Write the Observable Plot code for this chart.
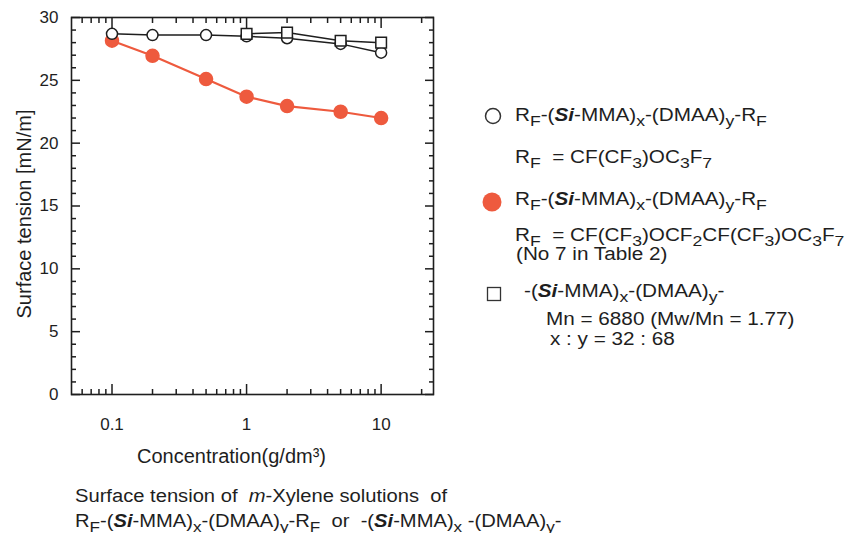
<!DOCTYPE html>
<html>
<head>
<meta charset="utf-8">
<script src="https://cdn.jsdelivr.net/npm/d3@7"></script>
<script src="https://cdn.jsdelivr.net/npm/@observablehq/plot@0.6"></script>
<style>
  html, body { margin: 0; padding: 0; background: #fff; }
  #wrap { position: relative; width: 854px; height: 533px; font-family: "Liberation Sans", Arial, sans-serif; color: #1e1e1e; }
  #chart { position: absolute; left: 0; top: 0; }
  .t { position: absolute; white-space: pre; line-height: 1.1; transform-origin: 0 0; }
  .leg { font-size: 18px; transform: scaleX(1.15); }
  sub { font-size: 85%; vertical-align: baseline; position: relative; top: 0.3em; }
  .si { font-weight: bold; font-style: italic; }
  .sym { position: absolute; }
  #caption { font-size: 18px; left: 75px; top: 484px; line-height: 25px; transform: scaleX(1.12); }
</style>
</head>
<body>
<div id="wrap">
  <div id="chart"></div>
  <svg class="sym" style="left:483px;top:106px" width="20" height="20"><circle cx="10" cy="10" r="7.5" fill="#fff" stroke="#333" stroke-width="1.5"/></svg>
  <div class="t leg" style="left:515px;top:106px">R<sub>F</sub>-(<span class="si">Si</span>-MMA)<sub>x</sub>-(DMAA)<sub>y</sub>-R<sub>F</sub></div>
  <div class="t leg" style="left:515px;top:148px">R<sub>F</sub>  = CF(CF<sub>3</sub>)OC<sub>3</sub>F<sub>7</sub></div>
  <svg class="sym" style="left:481px;top:191px" width="22" height="22"><circle cx="11" cy="11" r="9.5" fill="#ee5a3e"/></svg>
  <div class="t leg" style="left:515px;top:190px">R<sub>F</sub>-(<span class="si">Si</span>-MMA)<sub>x</sub>-(DMAA)<sub>y</sub>-R<sub>F</sub></div>
  <div class="t leg" style="left:515px;top:226px">R<sub>F</sub>  = CF(CF<sub>3</sub>)OCF<sub>2</sub>CF(CF<sub>3</sub>)OC<sub>3</sub>F<sub>7</sub></div>
  <div class="t leg" style="left:516px;top:245px">(No 7 in Table 2)</div>
  <svg class="sym" style="left:485px;top:285px" width="18" height="18"><rect x="2.5" y="2.5" width="13" height="13" fill="#fff" stroke="#333" stroke-width="1.3"/></svg>
  <div class="t leg" style="left:524px;top:282px">-(<span class="si">Si</span>-MMA)<sub>x</sub>-(DMAA)<sub>y</sub>-</div>
  <div class="t leg" style="left:546px;top:310px">Mn = 6880 (Mw/Mn = 1.77)</div>
  <div class="t leg" style="left:550px;top:330px">x : y = 32 : 68</div>
  <div class="t" id="caption">Surface tension of  <i>m</i>-Xylene solutions  of
R<sub>F</sub>-(<span class="si">Si</span>-MMA)<sub>x</sub>-(DMAA)<sub>y</sub>-R<sub>F</sub>  or  -(<span class="si">Si</span>-MMA)<sub>x</sub> -(DMAA)<sub>y</sub>-</div>
</div>
<script>
// ---- data ----
const concentration = [0.1, 0.2, 0.5, 1, 2, 5, 10];
const tensionOpenCircle = [28.7, 28.6, 28.6, 28.5, 28.35, 27.9, 27.2];
const tensionRedCircle = [28.15, 26.95, 25.1, 23.7, 22.95, 22.5, 22.0];
const concentrationSquare = [1, 2, 5, 10];
const tensionSquare = [28.7, 28.8, 28.15, 28.0];
const yMajorTicks = [0, 5, 10, 15, 20, 25, 30];
const yMinorTicks = d3.range(0, 31).filter(v => v % 5 !== 0);
const xMajorTicks = [0.1, 1, 10];
const xMinorTicks = [0.06, 0.07, 0.08, 0.09, 0.2, 0.3, 0.4, 0.5, 0.6, 0.7, 0.8, 0.9, 2, 3, 4, 5, 6, 7, 8, 9, 20];
const xLabel = "Concentration(g/dm³)";
const yLabel = "Surface tension [mN/m]";

const openData = concentration.map((c, i) => ({c, v: tensionOpenCircle[i]}));
const redData = concentration.map((c, i) => ({c, v: tensionRedCircle[i]}));
const squareData = concentrationSquare.map((c, i) => ({c, v: tensionSquare[i]}));

const red = "#ee5a3e";
const ink = "#1e1e1e";
const blank = () => "";

const chart = Plot.plot({
  width: 450,
  height: 478,
  marginLeft: 71,
  marginRight: 17,
  marginTop: 17,
  marginBottom: 84,
  style: {fontFamily: "'Liberation Sans', Arial, sans-serif", fontSize: "17px", color: ink, background: "transparent"},
  x: {type: "log", domain: [0.05, 24.5]},
  y: {domain: [0, 30]},
  marks: [
    Plot.frame({stroke: ink, strokeWidth: 1.6}),
    // y axis left: labels + major ticks (inward)
    Plot.axisY(yMajorTicks, {anchor: "left", tickSize: -9, tickPadding: 22, fontSize: 17, label: null, stroke: ink, strokeWidth: 1.5}),
    Plot.axisY(yMinorTicks, {anchor: "left", tickSize: -5, tickFormat: blank, label: null, stroke: ink, strokeWidth: 1.5}),
    Plot.axisY(yMajorTicks, {anchor: "right", tickSize: -9, tickFormat: blank, label: null, stroke: ink, strokeWidth: 1.5}),
    Plot.axisY(yMinorTicks, {anchor: "right", tickSize: -5, tickFormat: blank, label: null, stroke: ink, strokeWidth: 1.5}),
    // x axis
    Plot.axisX(xMajorTicks, {anchor: "bottom", tickSize: -10, tickPadding: 33, fontSize: 17, tickFormat: d => String(d), label: null, stroke: ink, strokeWidth: 1.5}),
    Plot.axisX(xMinorTicks, {anchor: "bottom", tickSize: -5, tickFormat: blank, label: null, stroke: ink, strokeWidth: 1.5}),
    Plot.axisX(xMajorTicks, {anchor: "top", tickSize: -10, tickFormat: blank, label: null, stroke: ink, strokeWidth: 1.5}),
    Plot.axisX(xMinorTicks, {anchor: "top", tickSize: -5, tickFormat: blank, label: null, stroke: ink, strokeWidth: 1.5}),
    // axis titles
    Plot.text([xLabel], {frameAnchor: "bottom", dx: -21, dy: 68, fontSize: 20, fill: ink, textAnchor: "middle"}),
    Plot.text([yLabel], {frameAnchor: "left", dx: -47, dy: 8, rotate: -90, fontSize: 20, fill: ink, textAnchor: "middle"}),
    // series
    Plot.line(redData, {x: "c", y: "v", stroke: red, strokeWidth: 2.2}),
    Plot.line(openData, {x: "c", y: "v", stroke: ink, strokeWidth: 1.5}),
    Plot.line(squareData, {x: "c", y: "v", stroke: ink, strokeWidth: 1.5}),
    Plot.dot(redData, {x: "c", y: "v", r: 6.5, fill: red, stroke: red}),
    Plot.dot(openData, {x: "c", y: "v", r: 5.5, fill: "white", stroke: ink, strokeWidth: 1.5}),
    Plot.dot(squareData, {x: "c", y: "v", symbol: "square", r: 6, fill: "white", stroke: ink, strokeWidth: 1.5})
  ]
});
document.getElementById("chart").appendChild(chart);
</script>
</body>
</html>
